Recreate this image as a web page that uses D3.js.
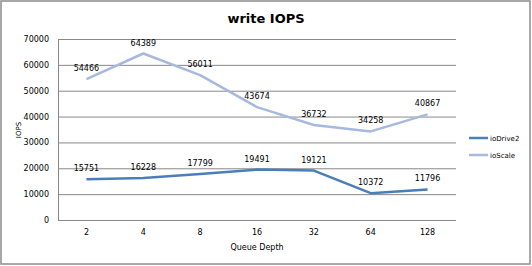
<!DOCTYPE html>
<html><head><meta charset="utf-8">
<script src="https://cdn.jsdelivr.net/npm/d3@7/dist/d3.min.js"></script>
<style>body{margin:0;background:#fff}text{font-family:"DejaVu Sans",sans-serif}</style>
</head><body>
<svg id="c" width="532" height="266"></svg>
<script>
const categories = ["2","4","8","16","32","64","128"];
const ioDrive2 = [15751,16228,17799,19491,19121,10372,11796];
const ioScale = [54466,64389,56011,43674,36732,34258,40867];
const yTicks = [0,10000,20000,30000,40000,50000,60000,70000];
const seriesNames = ["ioDrive2","ioScale"];
const colors = ["#4a7ebb","#a7b9de"];

const svg = d3.select("#c");
svg.append("rect").attr("x",1).attr("y",1).attr("width",529).attr("height",263)
  .attr("fill","#fff").attr("stroke","#8c8c8c").attr("stroke-width",1.5);

const L=58,R=456,T=39,B=220;
const x = d3.scaleBand().domain(categories).range([L,R]);
const y = d3.scaleLinear().domain([0,70000]).range([B,T]);

const g = svg.append("g");
g.selectAll("line.grid").data(yTicks).join("line").attr("class","grid")
  .attr("x1",L).attr("x2",R).attr("y1",d=>y(d)+0.5).attr("y2",d=>y(d)+0.5)
  .attr("stroke","#888").attr("stroke-width",1);
g.append("line").attr("x1",L+0.5).attr("x2",L+0.5).attr("y1",T).attr("y2",B)
  .attr("stroke","#888");

const ya = svg.append("g").attr("transform",`translate(${L},0)`)
  .call(d3.axisLeft(y).tickValues(yTicks).tickSize(0).tickPadding(9).tickFormat(d3.format("d")));
ya.select(".domain").remove();
ya.selectAll("text").attr("font-size",8).attr("fill","#000").style("font-family","DejaVu Sans");

const xa = svg.append("g").attr("transform",`translate(0,${B})`)
  .call(d3.axisBottom(x).tickSize(0).tickPadding(9));
xa.select(".domain").remove();
xa.selectAll("text").attr("font-size",8).attr("fill","#000").style("font-family","DejaVu Sans");

svg.append("text").attr("x",266).attr("y",23).attr("text-anchor","middle")
  .attr("font-size",13).attr("font-weight","bold").text("write IOPS");
svg.append("text").attr("x",257).attr("y",250).attr("text-anchor","middle")
  .attr("font-size",8).text("Queue Depth");
svg.append("text").attr("transform","translate(21,130) rotate(-90)").attr("text-anchor","middle")
  .attr("font-size",7).text("IOPS");

const line = d3.line().x((d,i)=>x(categories[i])+x.bandwidth()/2).y(d=>y(d));
[ioScale, ioDrive2].forEach((s,k)=>{
  const ci = k===0?1:0;
  svg.append("path").datum(s).attr("d",line).attr("fill","none")
    .attr("stroke",colors[ci]).attr("stroke-width",2.5).attr("stroke-linejoin","round");
});
[ioDrive2, ioScale].forEach(s=>{
  svg.append("g").selectAll("text").data(s).join("text")
    .attr("x",(d,i)=>x(categories[i])+x.bandwidth()/2)
    .attr("y",d=>y(d)-8).attr("text-anchor","middle").attr("font-size",8)
    .text(d=>d);
});

const lg = svg.append("g");
seriesNames.forEach((n,i)=>{
  const yy = 138 + i*17;
  lg.append("line").attr("x1",469).attr("x2",488).attr("y1",yy).attr("y2",yy)
    .attr("stroke",colors[i]).attr("stroke-width",2.5);
  lg.append("text").attr("x",490).attr("y",yy+3).attr("font-size",7).text(n);
});
</script>
</body></html>
